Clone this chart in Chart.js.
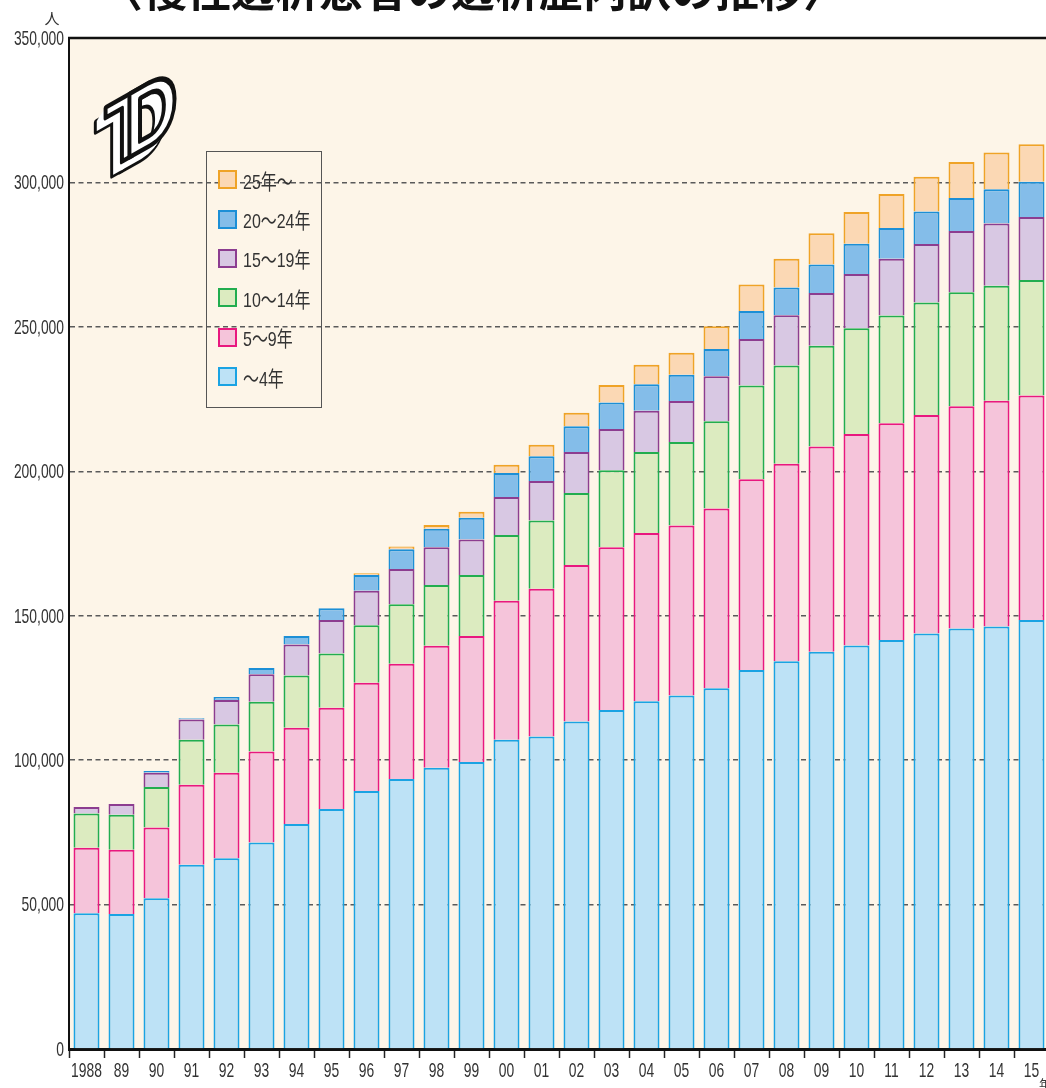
<!DOCTYPE html>
<html lang="ja">
<head>
<meta charset="utf-8">
<title>慢性透析患者の透析歴内訳の推移</title>
<script src="https://cdn.jsdelivr.net/npm/chart.js@4.4.1/dist/chart.umd.min.js"></script>
<style>
  html, body { margin: 0; padding: 0; background: #fff; overflow: hidden; }
  .wrap { position: relative; width: 1052px; height: 1088px; }
  #legend {
    position: absolute; left: 206px; top: 151px;
    width: 114px; height: 247px; padding-top: 8px;
    border: 1px solid #555;
  }
  .lg-item { display: flex; align-items: center; height: 39.4px; }
  .lg-sw { width: 15px; height: 15px; border: 2px solid; margin-left: 11px; margin-right: 6px; flex: none; }
  .lg-txt {
    font: 21px "Liberation Sans", "Noto Sans CJK JP", sans-serif; color: #333;
    transform: scaleX(0.76); transform-origin: left center; white-space: nowrap;
  }
</style>
</head>
<body>
<div class="wrap">
  <canvas id="chart" width="1052" height="1088"></canvas>
  <div id="legend"></div>
</div>
<script>
const title = '〈慢性透析患者の透析歴内訳の推移〉';
const years = ['1988', '89', '90', '91', '92', '93', '94', '95', '96', '97', '98', '99',
  '00', '01', '02', '03', '04', '05', '06', '07', '08', '09', '10', '11', '12', '13', '14', '15'];

// 人数（各区分）
const under4 = [47000, 46700, 52200, 63800, 66000, 71500, 77900, 83100, 89300, 93500, 97400, 99400,
  107100, 108200, 113400, 117400, 120400, 122400, 124900, 131200, 134200, 137500, 139700, 141600,
  143800, 145600, 146300, 148500];
const y5to9 = [22700, 22300, 24500, 27700, 29600, 31500, 33300, 35000, 37500, 39900, 42200, 43600,
  48100, 51100, 54200, 56300, 58200, 58800, 62200, 66000, 68400, 71100, 73200, 75000,
  75700, 76900, 78100, 77700];
const y10to14 = [11800, 12100, 14000, 15600, 16700, 17200, 18100, 18800, 19900, 20600, 21000, 21100,
  22700, 23700, 24900, 26700, 28100, 28900, 30200, 32500, 34000, 34900, 36600, 37300,
  38900, 39500, 39800, 40000];
const y15to19 = [2300, 3700, 4900, 7000, 8500, 9500, 10700, 11600, 11900, 12200, 13100, 12300,
  13200, 13600, 14200, 14200, 14300, 14200, 15600, 16100, 17400, 18200, 18800, 19700,
  20300, 21200, 21600, 21800];
const y20to24 = [0, 0, 600, 400, 1100, 2200, 3000, 4100, 5500, 6800, 6400, 7500,
  8300, 8600, 8900, 9200, 9100, 9100, 9400, 9700, 9600, 9900, 10500, 10600,
  11200, 11400, 11800, 12200];
const y25up = [0, 0, 0, 0, 0, 0, 0, 0, 600, 1000, 1300, 2100,
  2900, 4000, 4700, 6100, 6800, 7600, 7900, 9200, 10000, 10800, 11000, 11800,
  12100, 12500, 12800, 13000];

const seriesNames = ['～4年', '5～9年', '10～14年', '15～19年', '20～24年', '25年～'];
const seriesData = [under4, y5to9, y10to14, y15to19, y20to24, y25up];
const fills = ['#bde2f6', '#f5c4da', '#dcebc0', '#d8c8e3', '#84bde9', '#fbd8b4'];
const edges = ['#1aa3e3', '#e8187f', '#22ad4f', '#8c3d90', '#1c8fd6', '#efa327'];

const yMax = 350000;
const yStep = 50000;

const numFont = '21px "Liberation Sans", Arial, sans-serif';

function squashText(ctx, text, x, y, align, sx) {
  ctx.save();
  ctx.translate(x, y);
  ctx.scale(sx, 1);
  ctx.textAlign = align;
  ctx.fillText(text, 0, 0);
  ctx.restore();
}

// 3D "TD" mark in the upper-left corner
function drawLogo(ctx) {
  ctx.save();
  ctx.translate(140, 126);
  ctx.transform(0.8, -0.45, 0, 1, 0, 0);
  ctx.font = 'bold 92px "Liberation Sans", Arial, sans-serif';
  ctx.textAlign = 'center';
  ctx.textBaseline = 'middle';
  ctx.lineJoin = 'round';
  const layer = (dx, dy, stroke) => {
    ['T', 'D'].forEach((ch, k) => {
      const x = (k ? 14 : -16) + dx;
      ctx.fillStyle = '#fff';
      ctx.fillText(ch, x, dy);
      if (stroke) { ctx.lineWidth = 5; ctx.strokeStyle = '#111'; ctx.strokeText(ch, x, dy); }
    });
  };
  layer(-12, 9, true);
  for (let i = 11; i > 0; i--) layer(-i, i * 9 / 12, false);
  layer(0, 0, true);
  ctx.restore();
}

const decorPlugin = {
  id: 'decor',
  beforeDraw(chart) {
    const { ctx, chartArea: a } = chart;
    ctx.save();
    ctx.fillStyle = '#fff';
    ctx.fillRect(0, 0, chart.width, chart.height);
    ctx.fillStyle = '#fdf5e8';
    ctx.fillRect(a.left, a.top, a.right - a.left, a.bottom - a.top);
    ctx.restore();
  },
  afterDraw(chart) {
    const { ctx, chartArea: a, scales: { x, y } } = chart;
    ctx.save();
    // top frame
    ctx.strokeStyle = '#111';
    ctx.lineWidth = 2.5;
    ctx.beginPath();
    ctx.moveTo(a.left - 1, a.top);
    ctx.lineTo(a.right, a.top);
    ctx.stroke();

    // tick labels
    ctx.fillStyle = '#333';
    ctx.font = numFont;
    ctx.textBaseline = 'middle';
    y.ticks.forEach(t => {
      squashText(ctx, t.value.toLocaleString('en-US'), a.left - 5, y.getPixelForValue(t.value) + 1, 'right', 0.66);
    });
    years.forEach((lbl, i) => {
      squashText(ctx, lbl, x.getPixelForValue(i), a.bottom + 22, 'center', 0.66);
    });

    // units
    ctx.font = '15px "Noto Sans CJK JP", sans-serif';
    ctx.textAlign = 'center';
    ctx.fillText('人', 52, 18);
    ctx.font = '12px "Noto Sans CJK JP", sans-serif';
    ctx.textAlign = 'left';
    ctx.textBaseline = 'alphabetic';
    ctx.fillText('年', 1039, 1089);

    // title (cut off at the top edge)
    ctx.fillStyle = '#111';
    ctx.font = 'bold 44px "Noto Sans CJK JP", sans-serif';
    ctx.textBaseline = 'ideographic';
    ctx.fillText(title, 99, 12);

    drawLogo(ctx);
    ctx.restore();
  }
};

const datasets = seriesNames.map((name, i) => ({
  label: name,
  data: seriesData[i],
  backgroundColor: fills[i],
  borderColor: edges[i],
  borderWidth: 2,
  barPercentage: 0.743,
  categoryPercentage: 1
}));

new Chart(document.getElementById('chart'), {
  type: 'bar',
  data: { labels: years, datasets },
  options: {
    responsive: false,
    animation: false,
    layout: { padding: { top: 38, right: 3, left: 0, bottom: 0 } },
    plugins: { legend: { display: false }, tooltip: { enabled: false } },
    scales: {
      x: {
        stacked: true,
        offset: true,
        ticks: { display: false },
        grid: {
          display: true, offset: true, drawOnChartArea: false, drawTicks: true,
          tickLength: 9, tickColor: '#222', tickWidth: 1.5
        },
        border: { display: true, color: '#111', width: 3 },
        afterFit: s => { s.height = 39; }
      },
      y: {
        stacked: true,
        min: 0, max: yMax,
        ticks: { display: false, stepSize: yStep },
        grid: {
          drawTicks: false,
          lineWidth: 1.5,
          color: c => (c.tick && (c.tick.value === 0 || c.tick.value === yMax)) ? 'rgba(0,0,0,0)' : '#5a5a5a'
        },
        border: { display: true, color: '#111', width: 2, dash: [5, 3.5] },
        afterFit: s => { s.width = 69; }
      }
    }
  },
  plugins: [decorPlugin]
});

// legend: top series first, as in the original
document.getElementById('legend').innerHTML = seriesNames.map((n, i) => ({ n, i })).reverse().map(({ n, i }) =>
  `<div class="lg-item"><span class="lg-sw" style="background:${fills[i]};border-color:${edges[i]}"></span><span class="lg-txt">${n}</span></div>`
).join('');
</script>
</body>
</html>
